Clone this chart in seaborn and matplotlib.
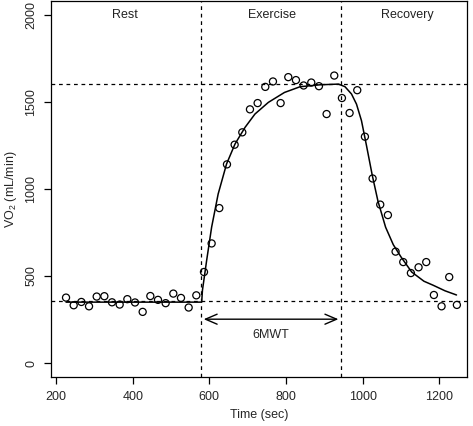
import matplotlib
matplotlib.use("Agg")
import matplotlib.pyplot as plt
import seaborn as sns
import pandas as pd

# VO2 measurements (sec, mL/min)
time_sec = [226, 246, 266, 286, 306, 326, 346, 366, 386, 406, 426, 446, 466, 486,
            506, 526, 546, 566, 586, 606, 626, 646, 666, 686, 706, 726, 746, 766,
            786, 806, 826, 846, 866, 886, 906, 926, 946, 966, 986, 1006, 1026, 1046,
            1066, 1086, 1106, 1126, 1146, 1166, 1186, 1206, 1226, 1246]
vo2 = [376, 332, 351, 326, 382, 384, 349, 336, 367, 348, 294, 385, 363, 344,
       399, 374, 319, 389, 523, 687, 890, 1141, 1254, 1325, 1457, 1493, 1586, 1617,
       1493, 1642, 1625, 1594, 1611, 1590, 1430, 1651, 1522, 1436, 1567, 1300, 1060, 910,
       850, 640, 580, 517, 550, 580, 391, 326, 494, 334]

# fitted model curve
fit_time = [226, 580, 582, 593, 606, 623, 645, 667, 693, 719, 754, 796, 837, 889,
            937, 954, 971, 984, 997, 1010, 1025, 1040, 1060, 1080, 1100, 1128, 1160,
            1184, 1215, 1245]
fit_vo2 = [350, 350, 418, 590, 781, 971, 1144, 1258, 1353, 1430, 1497, 1554, 1587, 1598,
           1602, 1587, 1545, 1487, 1392, 1250, 1080, 930, 780, 680, 610, 523, 470,
           447, 415, 391]

rest_level = 355
peak_level = 1605
ex_start = 578
ex_end = 944
phase_labels = ["Rest", "Exercise", "Recovery"]
phase_x = [380, 763, 1116]

df = pd.DataFrame({"time": time_sec, "vo2": vo2})
fit_df = pd.DataFrame({"time": fit_time, "vo2": fit_vo2})

sns.set_theme(style="ticks")
plt.rcParams["font.family"] = ["Liberation Sans", "DejaVu Sans"]
plt.rcParams["mathtext.fontset"] = "custom"
plt.rcParams["mathtext.rm"] = "Liberation Sans"

fig = plt.figure(figsize=(4.73, 4.26), dpi=100)
ax = fig.add_axes([0.108, 0.115, 0.879, 0.883])

sns.lineplot(data=fit_df, x="time", y="vo2", color="black", linewidth=1.1, ax=ax)
sns.scatterplot(data=df, x="time", y="vo2", marker="o", s=26, facecolor="none",
                edgecolor="black", linewidth=0.9, ax=ax, zorder=3)

dash = (0, (3, 3))
ax.axhline(rest_level, color="black", linewidth=0.9, linestyle=dash)
ax.axhline(peak_level, color="black", linewidth=0.9, linestyle=dash)
ax.axvline(ex_start, color="black", linewidth=0.9, linestyle=dash)
ax.axvline(ex_end, color="black", linewidth=0.9, linestyle=dash)

ax.annotate("", xy=(ex_start, 252), xytext=(ex_end, 252),
            arrowprops=dict(arrowstyle="<->,head_length=0.7,head_width=0.3",
                            color="black", lw=1))
ax.text((ex_start + ex_end) / 2, 160, "6MWT", ha="center", va="center", fontsize=9)

for lab, xp in zip(phase_labels, phase_x):
    ax.text(xp, 2000, lab, ha="center", va="center", fontsize=9, color="#222222")

ax.set_xlim(187, 1272)
ax.set_ylim(-80, 2080)
ax.set_xticks([200, 400, 600, 800, 1000, 1200])
ax.set_yticks([0, 500, 1000, 1500, 2000])
ax.set_yticklabels(["0", "500", "1000", "1500", "2000"], rotation=90, va="center")
ax.set_xlabel("Time (sec)", fontsize=9)
ax.set_ylabel(r"VO$_2$ (mL/min)", fontsize=9)
ax.xaxis.set_label_coords(0.5, -0.085)
ax.yaxis.set_label_coords(-0.078, 0.5)
ax.tick_params(axis="both", labelsize=9, length=5, width=0.9, color="black", pad=5)
for sp in ax.spines.values():
    sp.set_visible(True)
    sp.set_color("black")
    sp.set_linewidth(0.9)

fig.savefig("out.png", dpi=100)
